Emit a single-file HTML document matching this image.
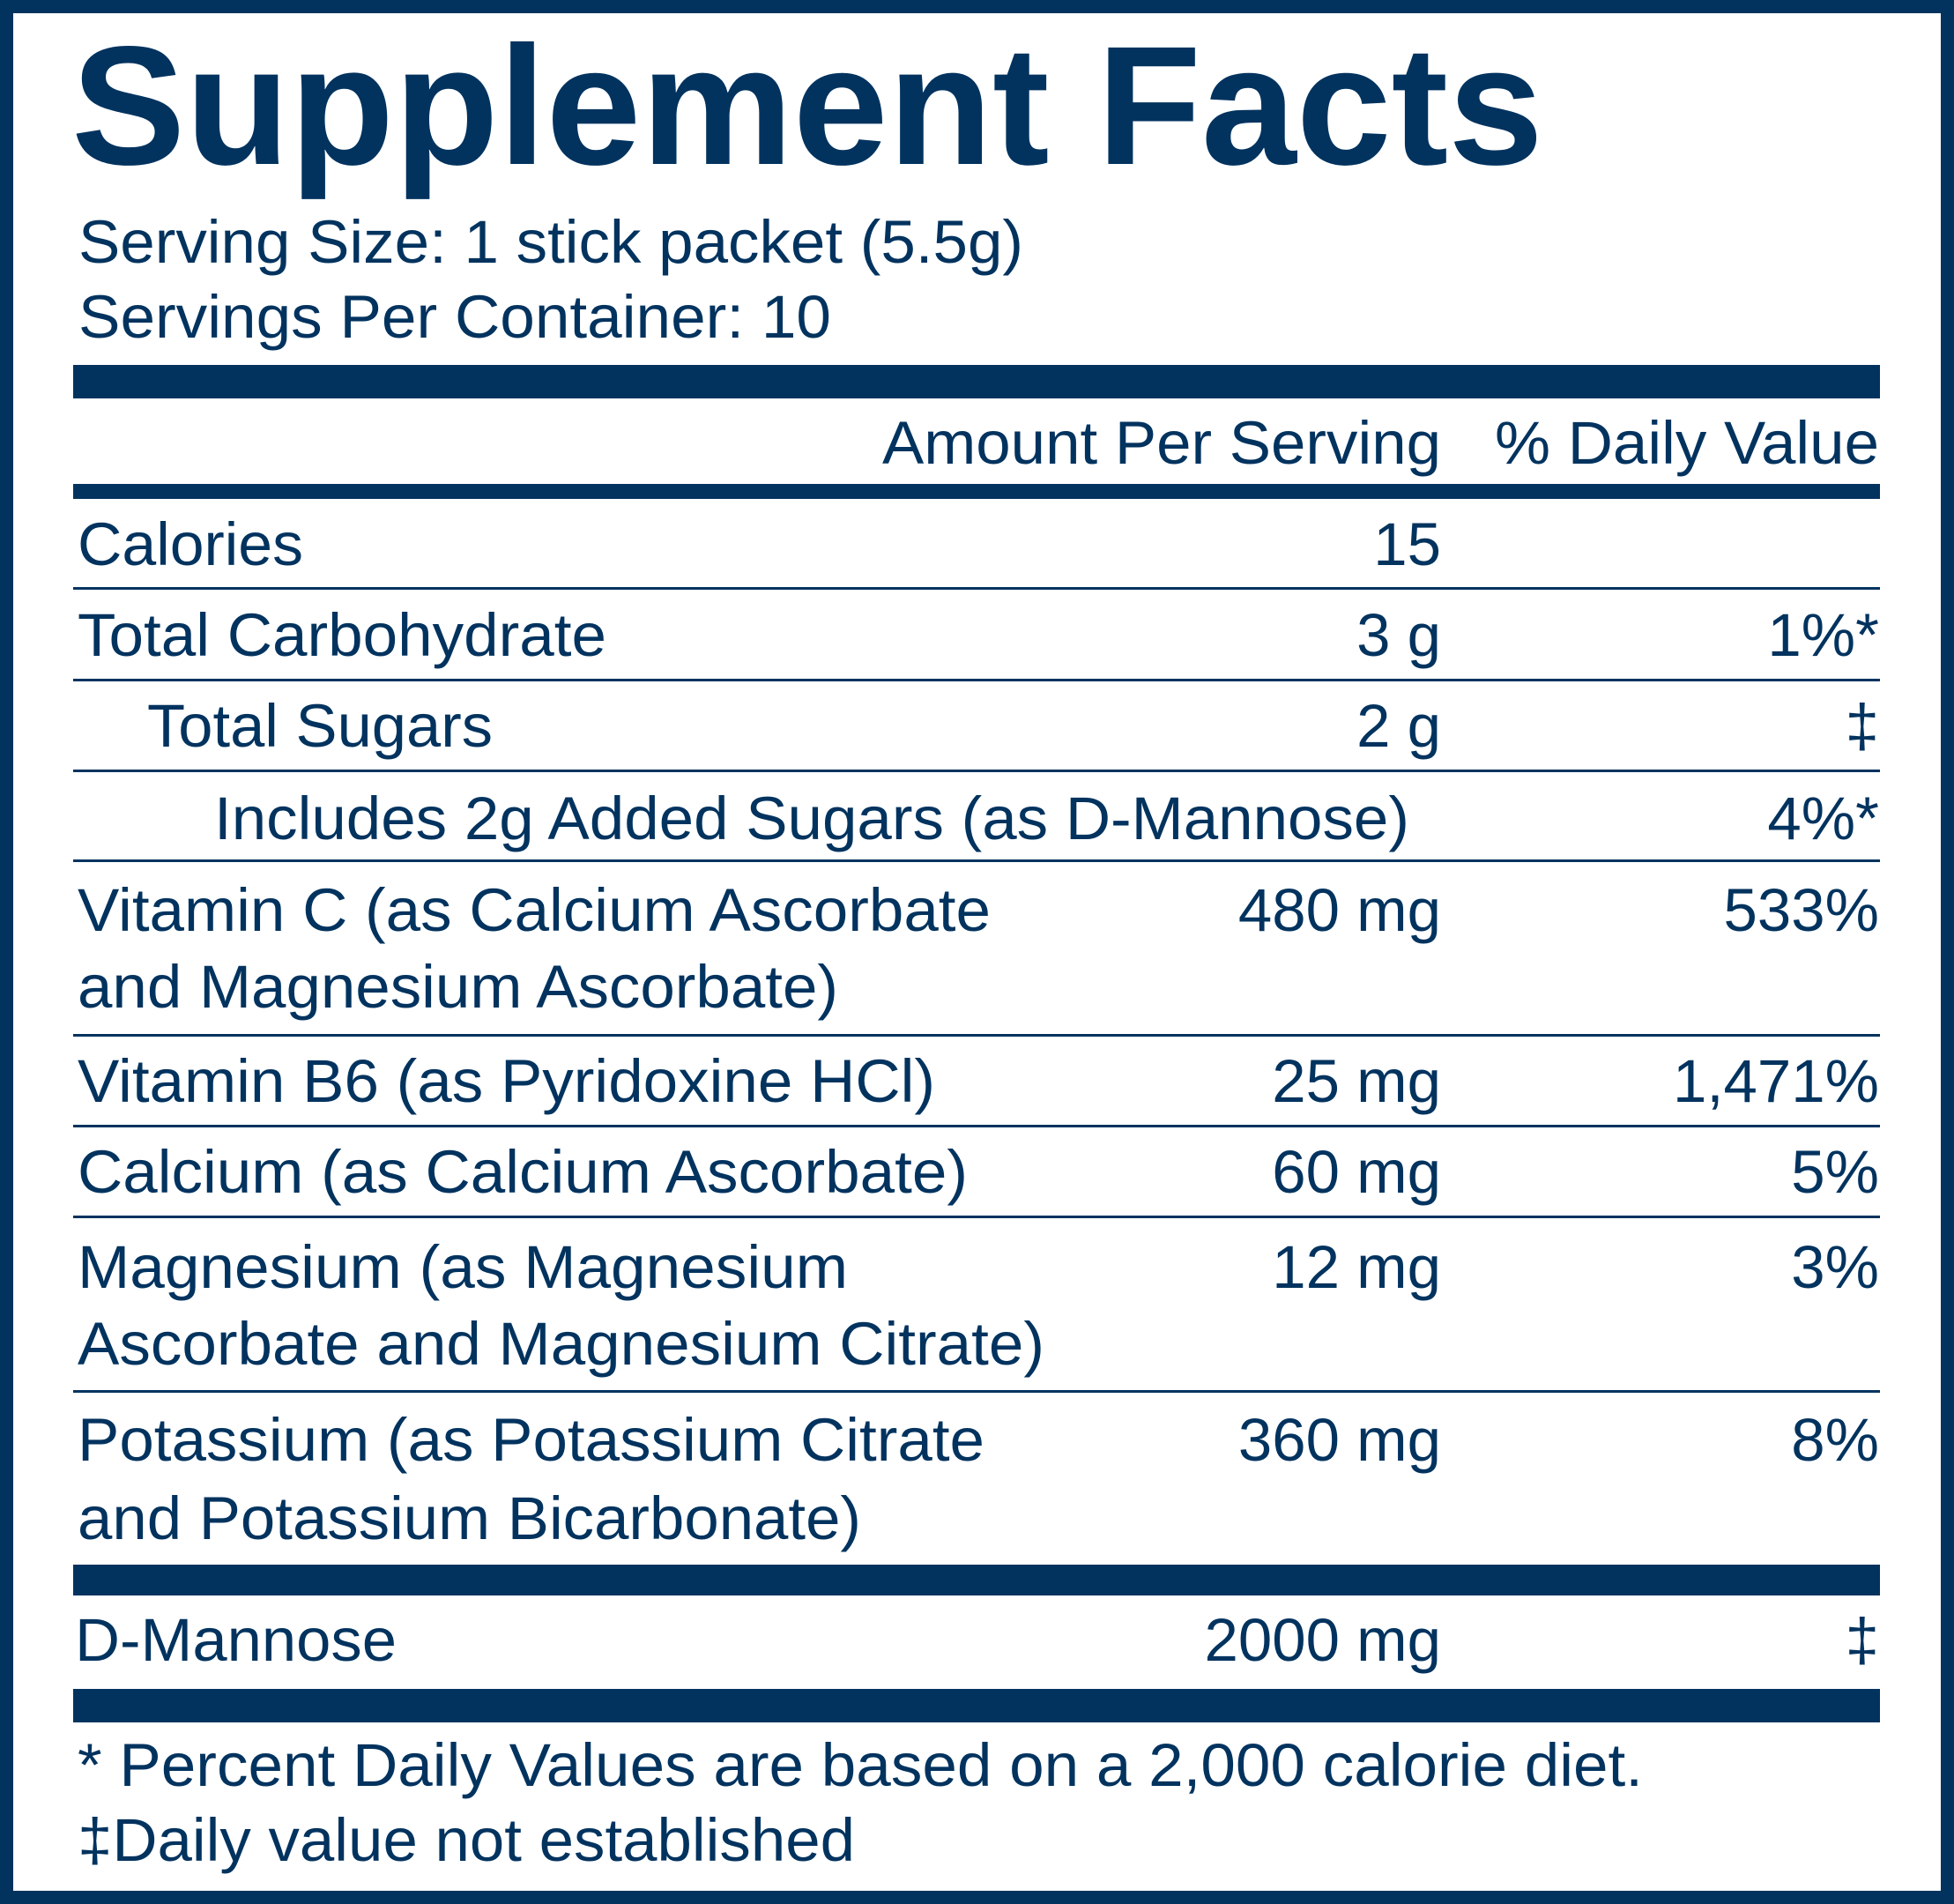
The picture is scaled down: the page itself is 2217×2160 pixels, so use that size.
<!DOCTYPE html>
<html><head><style>
html,body{margin:0;padding:0;background:#fff;}
svg{display:block;}
text{font-family:"Liberation Sans",Arial,sans-serif;fill:#02335f;}
</style></head><body>
<svg width="2217" height="2160" viewBox="0 0 2217 2160" xmlns="http://www.w3.org/2000/svg">
<rect x="7.5" y="7.5" width="2202" height="2145" fill="#fff" stroke="#02335f" stroke-width="15"/>
<text x="81" y="186" font-size="192" font-weight="bold" textLength="1670" lengthAdjust="spacingAndGlyphs">Supplement Facts</text>
<g font-size="69">
<text x="89" y="298" textLength="1072" lengthAdjust="spacingAndGlyphs">Serving Size: 1 stick packet (5.5g)</text>
<text x="89" y="383" textLength="854" lengthAdjust="spacingAndGlyphs">Servings Per Container: 10</text>
</g>
<rect x="83" y="414" width="2050" height="38" fill="#02335f"/>
<g font-size="69">
<text x="1001" y="526" textLength="634" lengthAdjust="spacingAndGlyphs">Amount Per Serving</text>
<text x="1696" y="526" textLength="436" lengthAdjust="spacingAndGlyphs">% Daily Value</text>
</g>
<rect x="83" y="549" width="2050" height="17" fill="#02335f"/>
<g fill="#02335f">
<rect x="83" y="666" width="2050" height="3"/>
<rect x="83" y="770" width="2050" height="3"/>
<rect x="83" y="873" width="2050" height="3"/>
<rect x="83" y="975" width="2050" height="3"/>
<rect x="83" y="1173" width="2050" height="3"/>
<rect x="83" y="1276" width="2050" height="3"/>
<rect x="83" y="1379" width="2050" height="3"/>
<rect x="83" y="1577" width="2050" height="3"/>
<rect x="83" y="1775" width="2050" height="35"/>
<rect x="83" y="1916" width="2050" height="38"/>
</g>
<g font-size="69">
<text x="88" y="641" textLength="256" lengthAdjust="spacingAndGlyphs">Calories</text>
<text x="1635" y="641" text-anchor="end">15</text>
<text x="88" y="744" textLength="600" lengthAdjust="spacingAndGlyphs">Total Carbohydrate</text>
<text x="1635" y="744" text-anchor="end">3 g</text>
<text x="2132" y="744" text-anchor="end">1%*</text>
<text x="167" y="847" textLength="392" lengthAdjust="spacingAndGlyphs">Total Sugars</text>
<text x="1635" y="847" text-anchor="end">2 g</text>
<text x="2132" y="847" text-anchor="end">‡</text>
<text x="243" y="952" textLength="1356" lengthAdjust="spacingAndGlyphs">Includes 2g Added Sugars (as D-Mannose)</text>
<text x="2132" y="952" text-anchor="end">4%*</text>
<text x="88" y="1056" textLength="1036" lengthAdjust="spacingAndGlyphs">Vitamin C (as Calcium Ascorbate</text>
<text x="88" y="1143" textLength="863" lengthAdjust="spacingAndGlyphs">and Magnesium Ascorbate)</text>
<text x="1635" y="1056" text-anchor="end">480 mg</text>
<text x="2132" y="1056" text-anchor="end">533%</text>
<text x="88" y="1250" textLength="973" lengthAdjust="spacingAndGlyphs">Vitamin B6 (as Pyridoxine HCl)</text>
<text x="1635" y="1250" text-anchor="end">25 mg</text>
<text x="2132" y="1250" text-anchor="end">1,471%</text>
<text x="88" y="1353" textLength="1010" lengthAdjust="spacingAndGlyphs">Calcium (as Calcium Ascorbate)</text>
<text x="1635" y="1353" text-anchor="end">60 mg</text>
<text x="2132" y="1353" text-anchor="end">5%</text>
<text x="88" y="1461" textLength="874" lengthAdjust="spacingAndGlyphs">Magnesium (as Magnesium</text>
<text x="88" y="1548" textLength="1097" lengthAdjust="spacingAndGlyphs">Ascorbate and Magnesium Citrate)</text>
<text x="1635" y="1461" text-anchor="end">12 mg</text>
<text x="2132" y="1461" text-anchor="end">3%</text>
<text x="88" y="1657" textLength="1029" lengthAdjust="spacingAndGlyphs">Potassium (as Potassium Citrate</text>
<text x="88" y="1746" textLength="889" lengthAdjust="spacingAndGlyphs">and Potassium Bicarbonate)</text>
<text x="1635" y="1657" text-anchor="end">360 mg</text>
<text x="2132" y="1657" text-anchor="end">8%</text>
<text x="85" y="1884" textLength="365" lengthAdjust="spacingAndGlyphs">D-Mannose</text>
<text x="1635" y="1884" text-anchor="end">2000 mg</text>
<text x="2132" y="1884" text-anchor="end">‡</text>
<text x="88" y="2026" textLength="1776" lengthAdjust="spacingAndGlyphs">* Percent Daily Values are based on a 2,000 calorie diet.</text>
<text x="88" y="2111" textLength="882" lengthAdjust="spacingAndGlyphs">‡Daily value not established</text>
</g>
</svg>
</body></html>
